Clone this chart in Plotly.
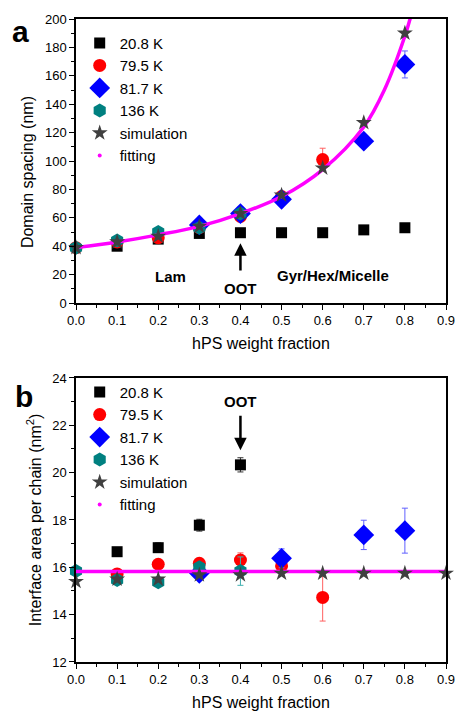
import plotly.graph_objects as go

# ---------------- data: panel a (domain spacing, nm) ----------------
a_x_208 = [0.1, 0.2, 0.3, 0.4, 0.5, 0.6, 0.7, 0.8]
a_y_208 = [40, 45, 49, 49.5, 49.5, 49.5, 51.5, 53]
a_e_208 = [1, 1, 1, 1, 1, 1, 1, 1]

a_x_795 = [0.0, 0.1, 0.2, 0.3, 0.4, 0.5, 0.6]
a_y_795 = [39, 43, 46, 53, 61, 75, 101]
a_e_795 = [1, 1, 1.5, 1.5, 1.5, 2, 8]

a_x_817 = [0.3, 0.4, 0.5, 0.7, 0.8]
a_y_817 = [55, 63, 73, 114, 168]
a_e_817 = [1.5, 1.5, 2, 2, 9.5]

a_x_136 = [0.0, 0.1, 0.2, 0.3, 0.4]
a_y_136 = [39, 44, 50, 53, 63]
a_e_136 = [1, 1, 1, 1, 1]

a_x_sim = [0.0, 0.1, 0.2, 0.3, 0.4, 0.5, 0.6, 0.7, 0.8]
a_y_sim = [39, 43, 47, 54, 63, 76, 95, 127, 190]

a_x_fit = [0.0, 0.1, 0.2, 0.3, 0.4, 0.5, 0.6, 0.7, 0.75, 0.8, 0.82]
a_y_fit = [39, 43, 48, 54, 63, 75, 94, 124, 150, 188, 208]

# ---------------- data: panel b (interface area per chain, nm^2) ----------------
b_x_208 = [0.1, 0.2, 0.3, 0.4]
b_y_208 = [16.66, 16.83, 17.78, 20.33]
b_e_208 = [0.1, 0.2, 0.25, 0.3]

b_x_795 = [0.1, 0.2, 0.3, 0.4, 0.5, 0.6]
b_y_795 = [15.72, 16.13, 16.17, 16.31, 16.06, 14.73]
b_e_795 = [0.1, 0.1, 0.2, 0.3, 0.2, 1.0]

b_x_817 = [0.3, 0.5, 0.7, 0.8]
b_y_817 = [15.75, 16.38, 17.37, 17.55]
b_e_817 = [0.1, 0.4, 0.62, 0.95]

b_x_136 = [0.0, 0.1, 0.2, 0.3, 0.4]
b_y_136 = [15.84, 15.46, 15.37, 16.0, 15.84]
b_e_136 = [0.05, 0.05, 0.05, 0.1, 0.6]

b_x_sim = [0.0, 0.1, 0.2, 0.3, 0.4, 0.5, 0.6, 0.7, 0.8, 0.9]
b_y_sim = [15.4, 15.5, 15.5, 15.68, 15.68, 15.75, 15.75, 15.75, 15.75, 15.75]

b_x_fit = [0.0, 0.9]
b_y_fit = [15.82, 15.82]

x_tickvals = [0.0, 0.1, 0.2, 0.3, 0.4, 0.5, 0.6, 0.7, 0.8, 0.9]

names = ["20.8 K", "79.5 K", "81.7 K", "136 K", "simulation", "fitting"]
FONT = "Liberation Sans, Arial, sans-serif"

styles = [
    dict(symbol="square", color="#000000", size=11, ecol="#333333"),
    dict(symbol="circle", color="#ff0000", size=13, ecol="#ff6060"),
    dict(symbol="diamond", color="#0000ff", size=16, ecol="#6060ff"),
    dict(symbol="hexagon", color="#008080", size=14, ecol="#40b0b0"),
]

fig = go.Figure()


def add_panel(xa, ya, leg, series, sim, fit):
    for (xs, ys, es), st, nm in zip(series, styles, names[:4]):
        fig.add_trace(go.Scatter(
            x=xs, y=ys, mode="markers", name=nm, xaxis=xa, yaxis=ya, legend=leg,
            cliponaxis=False,
            marker=dict(symbol=st["symbol"], color=st["color"], size=st["size"], line=dict(width=0)),
            error_y=dict(type="data", array=es, visible=True, color=st["ecol"], thickness=1, width=3),
        ))
    fig.add_trace(go.Scatter(
        x=fit[0], y=fit[1], mode="lines", name="fitting", xaxis=xa, yaxis=ya, legend=leg,
        line=dict(color="#ff00ff", width=3.5, shape="spline"), showlegend=False,
    ))
    fig.add_trace(go.Scatter(
        x=sim[0], y=sim[1], mode="markers", name="simulation", xaxis=xa, yaxis=ya, legend=leg,
        cliponaxis=False,
        marker=dict(symbol="star", color="#404040", size=12, line=dict(width=0)),
    ))
    # legend-only entry for fitting (small dot)
    fig.add_trace(go.Scatter(
        x=[None], y=[None], mode="markers", name="fitting", xaxis=xa, yaxis=ya, legend=leg,
        marker=dict(symbol="circle", color="#ff00ff", size=4),
    ))


add_panel("x", "y", "legend",
          [(a_x_208, a_y_208, a_e_208), (a_x_795, a_y_795, a_e_795),
           (a_x_817, a_y_817, a_e_817), (a_x_136, a_y_136, a_e_136)],
          (a_x_sim, a_y_sim), (a_x_fit, a_y_fit))
add_panel("x2", "y2", "legend2",
          [(b_x_208, b_y_208, b_e_208), (b_x_795, b_y_795, b_e_795),
           (b_x_817, b_y_817, b_e_817), (b_x_136, b_y_136, b_e_136)],
          (b_x_sim, b_y_sim), (b_x_fit, b_y_fit))

axis_common = dict(
    showline=True, linecolor="#000000", linewidth=1.5, mirror=True,
    ticks="outside", ticklen=5, tickwidth=1.2, tickcolor="#000000",
    showgrid=False, zeroline=False, automargin=False,
    tickfont=dict(family=FONT, size=13, color="#000000"),
)

xcommon = dict(axis_common, range=[0, 0.9], tickvals=x_tickvals, tickformat=".1f",
               minor=dict(ticks="outside", ticklen=3, tickwidth=1, tickcolor="#000000", dtick=0.05),
               title=dict(text="hPS weight fraction", font=dict(family=FONT, size=16, color="#000000"), standoff=10))

legend_common = dict(font=dict(family=FONT, size=15, color="#000000"), bgcolor="rgba(0,0,0,0)",
                     borderwidth=0, xanchor="left", yanchor="top", tracegroupgap=0, itemsizing="trace")

fig.update_layout(
    template="none",
    width=457, height=713,
    margin=dict(l=76, r=11, t=19, b=51, autoexpand=False),
    paper_bgcolor="white", plot_bgcolor="white",
    font=dict(family=FONT, color="#000000"),
    xaxis=dict(xcommon, domain=[0, 1], anchor="y"),
    xaxis2=dict(xcommon, domain=[0, 1], anchor="y2"),
    yaxis=dict(axis_common, domain=[0.5583, 1], anchor="x", range=[0, 200], dtick=20,
               minor=dict(ticks="outside", ticklen=3, tickwidth=1, tickcolor="#000000", dtick=10)),
    yaxis2=dict(axis_common, domain=[0, 0.4417], anchor="x2", range=[12, 24], dtick=2,
                minor=dict(ticks="outside", ticklen=3, tickwidth=1, tickcolor="#000000", dtick=1),
                title=dict(text="Interface area per chain (nm<sup>2</sup>)", font=dict(family=FONT, size=16, color="#000000"), standoff=7)),
    legend=dict(legend_common, x=0.01, y=0.988),
    legend2=dict(legend_common, x=0.01, y=0.445),
    showlegend=True,
)

ann_font = dict(family=FONT, size=15, color="#000000")
annotations = [
    dict(text="<b>a</b>", xref="paper", yref="paper", x=-0.151, y=1.0093, xanchor="center", yanchor="top",
         showarrow=False, font=dict(family=FONT, size=30, color="#000000")),
    dict(text="<b>b</b>", xref="paper", yref="paper", x=-0.141, y=0.442, xanchor="center", yanchor="top",
         showarrow=False, font=dict(family=FONT, size=30, color="#000000")),
    dict(text="Domain spacing (nm)", xref="paper", yref="y domain", x=-0.1324, y=0.461,
         xanchor="center", yanchor="middle", textangle=-90, showarrow=False,
         font=dict(family=FONT, size=16, color="#000000")),
    dict(text="<b>Lam</b>", xref="x", yref="y", x=0.23, y=18.5, showarrow=False, font=ann_font),
    dict(text="<b>Gyr/Hex/Micelle</b>", xref="x", yref="y", x=0.625, y=19.5, showarrow=False, font=ann_font),
    dict(text="<b>OOT</b>", xref="x", yref="y", x=0.4, y=42, axref="x", ayref="y", ax=0.4, ay=10.3,
         showarrow=True, arrowhead=2, arrowsize=1, arrowwidth=2.5, arrowcolor="#000000",
         startstandoff=8, font=ann_font),
    dict(text="<b>OOT</b>", xref="x2", yref="y2", x=0.4, y=20.95, axref="x2", ayref="y2", ax=0.4, ay=23.0,
         showarrow=True, arrowhead=2, arrowsize=1, arrowwidth=2.5, arrowcolor="#000000",
         startstandoff=4, font=ann_font),
]
fig.update_layout(annotations=annotations)

fig.write_html("out.html", config={"displayModeBar": False},
               post_script="document.body.style.margin='0';document.body.style.padding='0';")
